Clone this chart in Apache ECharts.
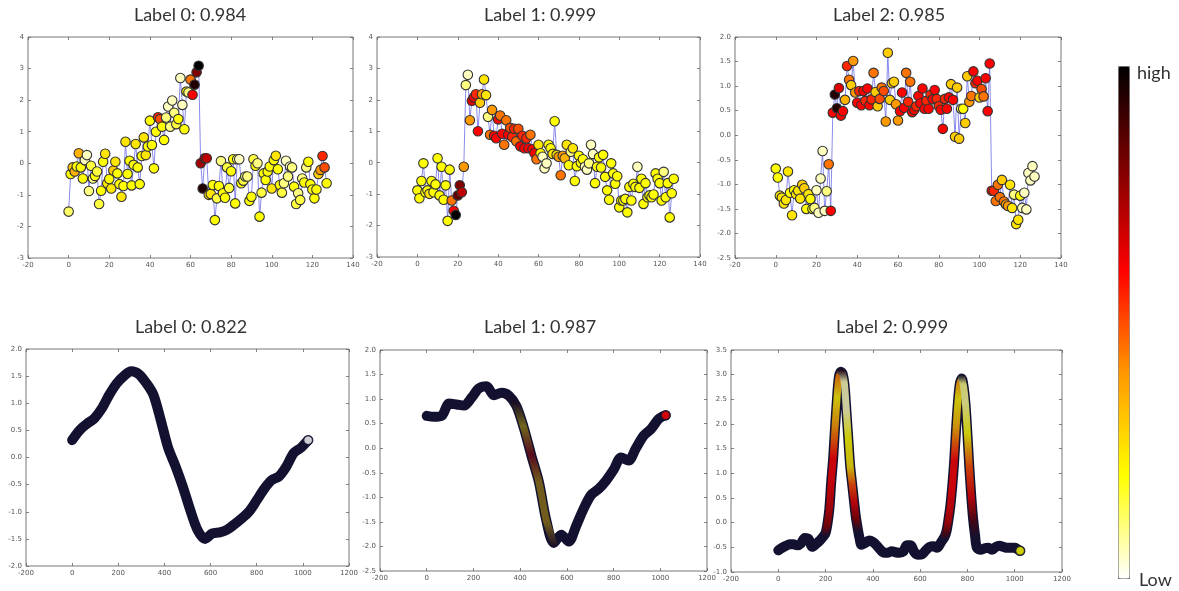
<!DOCTYPE html>
<html><head><meta charset="utf-8">
<script src="https://cdn.jsdelivr.net/npm/echarts/dist/echarts.min.js"></script>
<style>html,body{margin:0;padding:0;background:#fff}#c{width:1179px;height:591px}</style>
</head><body><div id="c"></div>
<script>
// ---------- data ----------
const panelTitles = ['Label 0: 0.984','Label 1: 0.999','Label 2: 0.985','Label 0: 0.822','Label 1: 0.987','Label 2: 0.999'];
const colorbarLabels = ['high','Low'];
// axis ranges: [min,max,interval]
const xTicksTop = [-20,140,20];
const xTicksBottom = [-200,1200,200];
const yTicks = [[-3,4,1],[-3,4,1],[-2.5,2.0,0.5],[-2.0,2.0,0.5],[-2.5,2.0,0.5],[-1.0,3.5,0.5]];
const yDecimals = [0,0,1,1,1,1];

const tl_y = [-1.53,-0.34,-0.13,-0.26,-0.10,0.32,-0.13,-0.48,0.10,0.26,
-0.88,-0.08,-0.48,-0.40,-0.26,-1.29,-0.87,0.05,0.30,-0.63,
-0.50,-0.80,-0.23,0.05,-0.32,-0.66,-1.06,-0.72,0.68,-0.34,
0.08,-0.70,-0.05,0.61,-0.13,-0.66,0.23,0.82,0.26,0.53,
1.35,0.58,-0.16,1.00,1.46,1.40,1.16,0.74,1.45,1.80,
1.16,1.99,1.60,1.24,1.40,2.70,1.85,1.08,2.27,2.24,
2.65,2.17,2.49,2.88,3.09,0.00,-0.80,0.16,0.16,-1.00,
-0.97,-0.69,-1.80,-1.11,-0.72,0.07,-0.95,-1.09,-0.13,-0.78,
-0.25,0.13,-1.27,0.13,0.13,-0.63,-0.55,-0.42,-0.42,-1.19,
-1.06,0.13,-0.08,0.00,-1.69,-0.93,-0.32,-0.53,-0.26,-0.10,
-0.80,0.10,0.24,-0.19,-0.69,-0.93,-0.63,0.08,-0.42,-0.10,
-0.13,-0.74,-1.29,-0.95,-1.16,-0.48,-0.61,-0.13,0.05,-0.66,
-0.83,-1.11,-0.83,-0.34,-0.21,0.23,-0.13,-0.63];
const tl_c = [0.12,0.2,0.3,0.35,0.2,0.35,0.2,0.2,0.05,0.05,
0.1,0.15,0.1,0.2,0.15,0.15,0.2,0.2,0.25,0.25,
0.2,0.25,0.3,0.25,0.2,0.2,0.25,0.2,0.25,0.2,
0.2,0.2,0.2,0.25,0.2,0.2,0.2,0.25,0.25,0.2,
0.2,0.2,0.2,0.2,0.55,0.5,0.2,0.2,0.1,0.05,
0.1,0.05,0.1,0.15,0.2,0.05,0.05,0.2,0.2,0.1,
0.45,0.6,0.95,0.8,1.0,0.75,0.95,0.75,0.7,0.25,
0.25,0.2,0.2,0.15,0.2,0.1,0.2,0.2,0.15,0.15,
0.2,0.2,0.2,0.1,0.05,0.2,0.15,0.1,0.1,0.2,
0.2,0.15,0.2,0.1,0.2,0.15,0.2,0.2,0.2,0.2,
0.25,0.2,0.25,0.2,0.2,0.15,0.1,0.05,0.1,0.05,
0.1,0.2,0.15,0.1,0.15,0.1,0.2,0.1,0.2,0.2,
0.2,0.2,0.2,0.3,0.4,0.55,0.5,0.2];

const tm_y = [-0.88,-1.13,-0.58,-0.02,-0.94,-0.88,-0.99,-0.58,-0.94,-0.69,
0.14,-1.04,-0.13,-1.18,-0.72,-1.85,-0.22,-1.20,-1.53,-1.66,
-1.04,-0.72,-0.94,-0.13,2.47,2.80,1.35,1.97,2.08,2.18,
1.00,1.91,2.18,2.65,2.15,1.46,0.89,1.68,0.86,0.78,
1.38,1.50,0.92,0.57,1.35,0.89,1.11,0.82,1.08,0.68,
1.08,0.52,0.86,0.46,0.78,0.46,0.89,0.43,0.30,0.11,
0.57,0.30,0.19,-0.18,-0.02,0.57,0.46,0.28,1.32,0.25,
0.19,-0.40,0.22,0.14,0.57,-0.08,0.35,0.46,-0.58,-0.11,
0.22,0.00,0.11,-0.13,-0.22,-0.02,0.57,0.28,-0.65,-0.13,
0.17,-0.15,0.25,-0.45,-0.88,-1.18,-0.02,-0.34,-0.67,-0.43,
-1.42,-1.20,-1.20,-1.15,-1.58,-0.77,-1.20,-0.67,-0.77,-0.13,
-0.80,-0.51,-1.31,-0.65,-1.10,-1.04,-1.10,-1.01,-0.34,-0.51,
-0.65,-1.20,-0.29,-1.10,-0.65,-1.74,-0.97,-0.51];
const tm_c = [0.2,0.2,0.2,0.2,0.2,0.2,0.25,0.2,0.2,0.2,
0.2,0.2,0.2,0.2,0.2,0.2,0.2,0.45,0.6,1.0,
0.85,0.8,0.7,0.4,0.1,0.05,0.4,0.65,0.6,0.55,
0.6,0.3,0.4,0.25,0.25,0.1,0.45,0.4,0.6,0.6,
0.6,0.45,0.6,0.45,0.45,0.6,0.5,0.55,0.55,0.45,
0.5,0.6,0.55,0.6,0.55,0.6,0.45,0.6,0.6,0.45,
0.25,0.2,0.05,0.05,0.05,0.2,0.2,0.25,0.2,0.25,
0.4,0.45,0.4,0.35,0.25,0.2,0.1,0.25,0.2,0.2,
0.2,0.2,0.2,0.05,0.05,0.1,0.05,0.05,0.2,0.2,
0.2,0.2,0.2,0.2,0.2,0.2,0.2,0.2,0.2,0.2,
0.2,0.2,0.2,0.2,0.2,0.2,0.2,0.2,0.2,0.05,
0.2,0.2,0.2,0.2,0.2,0.2,0.2,0.2,0.2,0.2,
0.2,0.2,0.1,0.2,0.2,0.2,0.2,0.2];

const tr_y = [-0.68,-0.86,-1.23,-1.27,-1.39,-1.32,-0.74,-1.17,-1.63,-1.12,
-1.20,-1.13,-1.29,-1.01,-1.08,-1.50,-1.20,-1.30,-1.50,-1.48,
-1.12,-1.58,-0.88,-0.32,-1.54,-1.14,-0.59,-1.54,0.46,0.83,
0.55,0.96,0.40,0.49,0.72,1.41,1.13,1.02,1.51,0.87,
0.66,0.90,0.61,0.90,0.70,0.95,0.61,0.73,1.27,0.88,
0.59,0.74,0.97,0.90,0.28,1.68,0.72,1.06,1.09,0.63,
0.30,0.49,0.87,0.56,1.27,0.68,1.09,0.47,0.52,0.59,
0.80,0.65,0.95,0.54,0.70,0.54,0.83,0.73,0.92,0.74,
0.59,0.52,0.13,0.74,0.54,0.77,1.04,0.72,-0.03,0.97,
-0.07,0.54,0.54,0.25,1.20,0.68,0.80,1.30,1.06,1.11,
0.77,0.94,0.79,1.16,0.49,1.46,-1.13,-1.13,-1.34,-1.01,
-1.26,-0.91,-1.35,-1.41,-1.44,-1.01,-1.48,-1.21,-1.81,-1.72,
-1.23,-1.48,-1.17,-1.51,-0.77,-0.92,-0.63,-0.84];
const tr_c = [0.2,0.2,0.25,0.25,0.25,0.25,0.25,0.2,0.25,0.2,
0.25,0.25,0.25,0.3,0.3,0.2,0.25,0.2,0.2,0.1,
0.05,0.05,0.05,0.05,0.05,0.1,0.45,0.6,0.6,0.95,
0.95,0.65,0.6,0.6,0.35,0.55,0.45,0.3,0.4,0.4,
0.6,0.55,0.6,0.6,0.55,0.6,0.6,0.55,0.45,0.3,
0.3,0.5,0.45,0.5,0.4,0.3,0.3,0.3,0.3,0.4,
0.4,0.6,0.6,0.6,0.45,0.55,0.45,0.6,0.6,0.55,
0.6,0.6,0.6,0.6,0.55,0.6,0.55,0.6,0.6,0.55,
0.55,0.6,0.6,0.55,0.6,0.6,0.3,0.6,0.3,0.3,
0.3,0.1,0.2,0.3,0.3,0.4,0.45,0.6,0.55,0.6,
0.3,0.5,0.45,0.6,0.6,0.6,0.6,0.55,0.45,0.45,
0.45,0.3,0.45,0.4,0.4,0.25,0.25,0.1,0.25,0.25,
0.2,0.05,0.05,0.05,0.05,0.05,0.05,0.05];

const bl_x = [0,32,64,96,128,160,192,224,256,288,320,352,384,416,448,480,512,544,576,608,640,672,704,736,768,800,832,864,896,928,960,992,1010,1023];
const bl_y = [0.32,0.50,0.62,0.72,0.90,1.15,1.36,1.50,1.59,1.54,1.38,1.16,0.69,0.18,-0.16,-0.54,-0.97,-1.34,-1.50,-1.40,-1.38,-1.33,-1.23,-1.12,-0.99,-0.79,-0.58,-0.42,-0.35,-0.17,0.08,0.18,0.26,0.32];
const bl_c = [1,1,1,1,1,1,1,1,1,1,1,1,1,1,1,1,1,1,1,1,1,1,1,1,1,1,1,1,1,1,1,1,1,0];

const bm_x = [0,32,64,96,128,160,192,224,256,288,320,352,384,416,448,480,512,544,576,608,640,672,704,736,768,800,832,864,896,928,960,992,1010,1023];
const bm_y = [0.66,0.64,0.66,0.91,0.89,0.87,1.03,1.22,1.26,1.08,1.13,1.07,0.86,0.41,-0.15,-0.68,-1.47,-1.93,-1.76,-1.90,-1.58,-1.23,-0.95,-0.83,-0.66,-0.44,-0.19,-0.25,0.00,0.25,0.39,0.59,0.65,0.67];
const bm_c = [1,1,1,1,1,1,1,1,1,1,1,1,0.9,0.25,0.7,0.3,0.3,0.9,1,1,1,1,1,1,1,1,1,1,1,1,1,1,1,0.6];

const br_x = [0,16,32,48,64,80,96,112,128,144,160,176,192,
200,208,216,224,232,240,248,256,264,272,280,288,296,304,312,320,328,336,344,352,
368,384,400,416,432,448,464,480,496,512,528,544,560,576,592,608,624,640,656,672,688,704,
712,720,728,736,744,752,760,768,776,784,792,800,808,816,824,832,840,
856,872,888,904,920,936,952,968,984,1000,1010,1023];
const br_y = [-0.56,-0.51,-0.47,-0.44,-0.44,-0.46,-0.42,-0.31,-0.33,-0.49,-0.43,-0.36,-0.27,
-0.21,-0.02,0.28,0.83,1.30,1.92,2.49,2.94,3.06,3.02,2.80,2.27,1.71,1.15,0.80,0.45,0.12,-0.12,-0.32,-0.45,
-0.41,-0.36,-0.39,-0.46,-0.55,-0.61,-0.61,-0.58,-0.60,-0.61,-0.59,-0.46,-0.46,-0.60,-0.65,-0.64,-0.56,-0.49,-0.48,-0.51,-0.40,-0.28,
-0.16,0.07,0.35,0.75,1.25,1.90,2.45,2.82,2.92,2.75,2.39,1.79,1.13,0.55,0.08,-0.25,-0.51,
-0.55,-0.52,-0.51,-0.55,-0.49,-0.47,-0.49,-0.51,-0.51,-0.51,-0.53,-0.57];
const br_c = [1,1,1,1,1,1,1,1,1,1,1,1,1,
1,0.8,0.7,0.62,0.6,0.4,0.22,0.45,1,0.9,0.06,0.05,0.2,0.25,0.5,0.65,0.8,1,1,1,
1,1,1,1,1,1,1,1,1,1,1,1,1,1,1,1,1,1,1,1,1,1,
0.85,0.7,0.65,0.6,0.6,0.35,0.22,0.4,1,0.1,0.08,0.2,0.5,0.65,0.85,1,1,
1,1,1,1,1,1,1,1,1,1,1,0.2];

// ---------- styling helpers ----------
const CMAP = ['#ffffff','#ffff00','#ff9900','#ff0000','#800000','#000000'];
const NAVY = [18,18,48];
function hex(h){return [parseInt(h.slice(1,3),16),parseInt(h.slice(3,5),16),parseInt(h.slice(5,7),16)];}
function cmap(c){c=Math.max(0,Math.min(1,c));const n=CMAP.length-1;const p=c*n;const i=Math.min(n-1,Math.floor(p));const t=p-i;const a=hex(CMAP[i]),b=hex(CMAP[i+1]);return a.map((v,j)=>v+(b[j]-v)*t);}
function mix(a,b,k){return a.map((v,j)=>Math.round(v*(1-k)+b[j]*k));}
function bandColor(c,dk){const k=dk+(1-dk)*Math.max(0,Math.min(1,(c-0.8)/0.2));const m=mix(cmap(c),NAVY,k);return 'rgb('+m.join(',')+')';}

const grids = [
  {left:28,top:37,width:325,height:221},
  {left:377,top:37,width:323,height:220},
  {left:735,top:37,width:326,height:221},
  {left:26,top:349,width:323,height:217},
  {left:380,top:350,width:327,height:221},
  {left:731,top:350,width:331,height:222}
].map(g=>Object.assign(g,{show:true,borderColor:'#777',borderWidth:1,backgroundColor:'transparent'}));

const xAxes=[], yAxes=[];
for(let i=0;i<6;i++){
  const xt = i<3?xTicksTop:xTicksBottom, yt=yTicks[i], yd=yDecimals[i];
  ['bottom','top'].forEach(pos=>xAxes.push({type:'value',gridIndex:i,position:pos,min:xt[0],max:xt[1],interval:xt[2],
    axisLine:{show:false,onZero:false},splitLine:{show:false},
    axisTick:{show:true,inside:true,length:3,lineStyle:{color:'#666',width:0.8}},
    axisLabel:{show:pos==='bottom',fontSize:7,color:'#555',margin:4,fontFamily:'DejaVu Sans',formatter:v=>String(Math.round(v))}}));
  ['left','right'].forEach(pos=>yAxes.push({type:'value',gridIndex:i,position:pos,min:yt[0],max:yt[1],interval:yt[2],
    axisLine:{show:false,onZero:false},splitLine:{show:false},
    axisTick:{show:true,inside:true,length:3,lineStyle:{color:'#666',width:0.8}},
    axisLabel:{show:pos==='left',fontSize:7,color:'#555',margin:4,fontFamily:'DejaVu Sans',formatter:v=>Number(v).toFixed(yd)}}));
}

const series=[]; const vmSeries=[];
[[tl_y,tl_c],[tm_y,tm_c],[tr_y,tr_c]].forEach((p,i)=>{
  series.push({type:'line',xAxisIndex:2*i,yAxisIndex:2*i,data:p[0].map((v,k)=>[k,v]),showSymbol:false,
    lineStyle:{color:'rgba(100,100,230,0.75)',width:1},z:2,silent:true});
  vmSeries.push(series.length);
  series.push({type:'scatter',xAxisIndex:2*i,yAxisIndex:2*i,data:p[0].map((v,k)=>[k,v,p[1][k]]),
    symbol:'circle',symbolSize:9.5,itemStyle:{borderColor:'#333',borderWidth:1.1,opacity:1},z:3,silent:true});
});

function monoPieces(ys){
  const out=[];let s=0,dir=0;
  for(let k=1;k<ys.length;k++){const d=Math.sign(ys[k]-ys[k-1]);
    if(dir!==0&&d!==0&&d!==dir){out.push([s,k-1]);s=k-1;}
    if(d!==0)dir=d;}
  out.push([s,ys.length-1]);return out;
}
[[bl_x,bl_y,bl_c,0.3],[bm_x,bm_y,bm_c,0.6],[br_x,br_y,br_c,0.22]].forEach((p,j)=>{
  const i=3+j, xs=p[0], ys=p[1], cs=p[2], dk=p[3];
  series.push({type:'line',xAxisIndex:2*i,yAxisIndex:2*i,data:xs.map((x,k)=>[x,ys[k]]),showSymbol:false,smooth:0.3,
    lineStyle:{color:'rgb('+NAVY.join(',')+')',width:10,cap:'round',join:'round'},z:2,silent:true});
  monoPieces(ys).forEach(([a,b])=>{
    let f=-1,l=-1;for(let k=a;k<=b;k++){if(cs[k]<0.95){if(f<0)f=k;l=k;}}
    if(f<0)return; const s=Math.max(a,f-1), e=Math.min(b,l+1);
    if(e-s<2)return;
    const idx=[];for(let k=s;k<=e;k++)idx.push(k);
    let ymin=Infinity,ymax=-Infinity;idx.forEach(k=>{ymin=Math.min(ymin,ys[k]);ymax=Math.max(ymax,ys[k]);});
    const stops=idx.map(k=>({offset:(ymax-ys[k])/(ymax-ymin),color:bandColor(cs[k],dk)})).sort((u,v)=>u.offset-v.offset);
    series.push({type:'line',xAxisIndex:2*i,yAxisIndex:2*i,data:idx.map(k=>[xs[k],ys[k]]),showSymbol:false,smooth:0.3,
      lineStyle:{color:new echarts.graphic.LinearGradient(0,0,0,1,stops),width:7,cap:'round',join:'round'},z:3,silent:true});
  });
  const n=xs.length-1;
  vmSeries.push(series.length);
  series.push({type:'scatter',xAxisIndex:2*i,yAxisIndex:2*i,data:[[xs[n],ys[n],cs[n]]],symbol:'circle',symbolSize:9,
    itemStyle:{borderColor:'rgb('+NAVY.join(',')+')',borderWidth:1.5},z:4,silent:true});
});

const titleCenters=[[190,15],[540,15],[889,15],[191,327],[540,327],[892,327]];
const titles=panelTitles.map((t,i)=>({text:t,left:titleCenters[i][0],top:titleCenters[i][1],textAlign:'center',textVerticalAlign:'middle',padding:0,
  textStyle:{fontFamily:'Lato',fontSize:18,fontWeight:'normal',color:'#333'}}));
titles.push({text:colorbarLabels[0],left:1137,top:73,textAlign:'left',textVerticalAlign:'middle',padding:0,textStyle:{fontFamily:'Lato',fontSize:18,fontWeight:'normal',color:'#333'}});
titles.push({text:colorbarLabels[1],left:1139,top:580,textAlign:'left',textVerticalAlign:'middle',padding:0,textStyle:{fontFamily:'Lato',fontSize:18,fontWeight:'normal',color:'#333'}});

const chart=echarts.init(document.getElementById('c'),null,{renderer:'canvas'});
chart.setOption({
  animation:false,backgroundColor:'#fff',
  title:titles,grid:grids,xAxis:xAxes,yAxis:yAxes,
  visualMap:{type:'continuous',min:0,max:1,dimension:2,seriesIndex:vmSeries,calculable:false,
    inRange:{color:CMAP},left:1118,top:66,itemWidth:11,itemHeight:512,padding:0,
    borderColor:'#777',borderWidth:1,text:null,hoverLink:false},
  series:series
});
</script></body></html>
